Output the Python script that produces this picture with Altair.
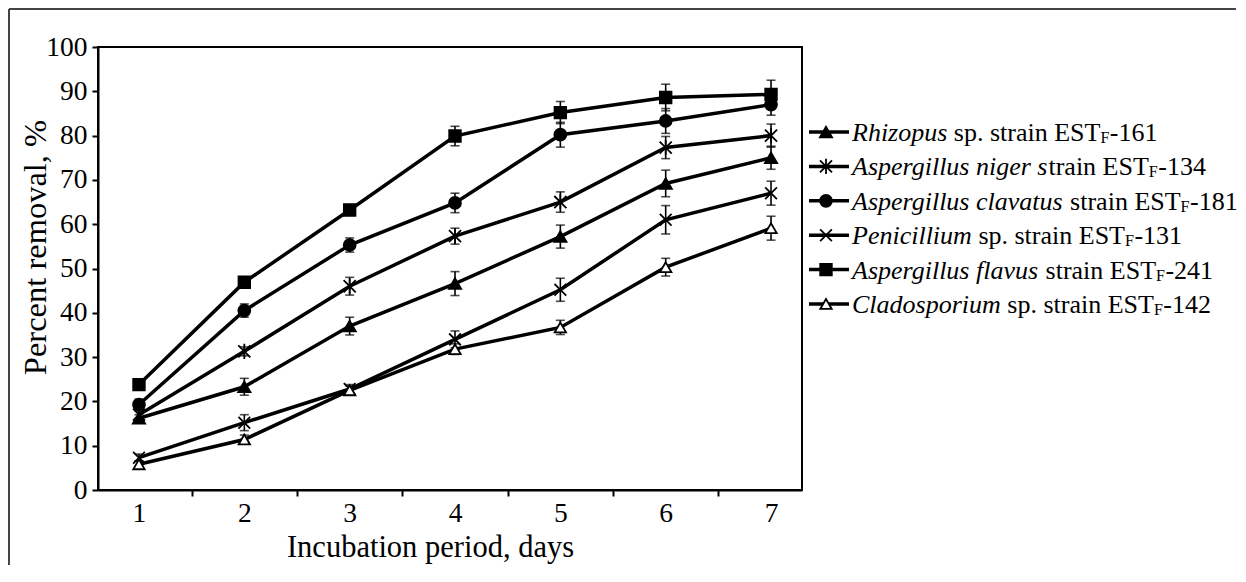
import altair as alt
import pandas as pd

# ---------------- data ----------------
days = [1, 2, 3, 4, 5, 6, 7]
series = ["Rhizopus", "Aspergillus niger", "Aspergillus clavatus",
          "Penicillium", "Aspergillus flavus", "Cladosporium"]

rhizopus_mean = [16.2, 23.3, 37.0, 46.6, 57.2, 69.2, 75.0]
rhizopus_err = [0.8, 1.9, 2.0, 2.7, 2.6, 3.0, 2.6]
niger_mean = [17.0, 31.3, 46.0, 57.3, 65.0, 77.3, 80.0]
niger_err = [0.8, 1.0, 2.0, 1.8, 2.3, 2.5, 2.6]
clavatus_mean = [19.3, 40.5, 55.3, 64.8, 80.2, 83.3, 87.0]
clavatus_err = [1.2, 1.5, 1.6, 2.2, 2.8, 2.8, 2.4]
penicillium_mean = [7.3, 15.2, 22.8, 34.0, 45.2, 61.0, 67.0]
penicillium_err = [0.8, 1.8, 1.0, 1.9, 2.6, 3.2, 2.7]
flavus_mean = [23.8, 46.9, 63.2, 79.9, 85.2, 88.6, 89.3]
flavus_err = [0.8, 0.8, 1.2, 2.2, 2.5, 3.0, 3.2]
clado_mean = [5.8, 11.4, 22.5, 31.8, 36.7, 50.3, 59.1]
clado_err = [0.8, 1.0, 1.0, 1.2, 1.6, 2.0, 2.7]

# legend text pieces
italic_part = ["Rhizopus", "Aspergillus niger s", "Aspergillus clavatus",
               "Penicillium", "Aspergillus flavus", "Cladosporium"]
regular_part = ["sp. strain EST", "train EST", "strain EST",
                "sp. strain EST", "strain EST", "sp. strain EST"]
space_before_regular = [True, False, True, True, True, True]
subscript_part = ["F", "F", "F", "F", "F", "F"]
strain_number = ["-161", "-134", "-181", "-131", "-241", "-142"]

y_tick_values = list(range(0, 101, 10))
x_tick_values = [1, 1.5, 2, 2.5, 3, 3.5, 4, 4.5, 5, 5.5, 6, 6.5, 7]

means = [rhizopus_mean, niger_mean, clavatus_mean, penicillium_mean, flavus_mean, clado_mean]
errs = [rhizopus_err, niger_err, clavatus_err, penicillium_err, flavus_err, clado_err]

rows = []
for s, m, e in zip(series, means, errs):
    for d, v, er in zip(days, m, e):
        rows.append({"series": s, "day": d, "value": v, "lo": v - er, "hi": v + er})
df = pd.DataFrame(rows)

# ---------------- styles ----------------
FONT = "Liberation Serif"
LEG_FS = 26
SUB_FS = 16
ASTER = "M-1,-1L1,1M-1,1L1,-1M0,-1.25L0,1.25"
XSHAPE = "M-1,-1L1,1M-1,1L1,-1"
shape_range = ["triangle-up", ASTER, "circle", XSHAPE, "square", "triangle-up"]
fill_range = ["black", "black", "black", "black", "black", "white"]
size_range = [150, 130, 125, 125, 150, 150]

shape_enc = alt.Shape("series:N", scale=alt.Scale(domain=series, range=shape_range), legend=None)
fill_enc = alt.Fill("series:N", scale=alt.Scale(domain=series, range=fill_range), legend=None)
size_enc = alt.Size("series:N", scale=alt.Scale(domain=series, range=size_range), legend=None)

xscale = alt.Scale(domain=[0.611, 7.294], nice=False, zero=False)
yscale = alt.Scale(domain=[0, 100], nice=False, zero=False)

x_axis = alt.Axis(
    values=x_tick_values,
    labelExpr="datum.value % 1 === 0 ? format(datum.value, 'd') : ''",
    tickColor={"condition": {"test": "datum.value % 1 === 0", "value": "transparent"}, "value": "black"},
    tickSize=6, tickWidth=2, domainColor="black", domainWidth=2,
    labelFontSize=27.5, labelPadding=3, labelOverlap=False, labelFlush=False,
    title="Incubation period, days", titleFontSize=30.5, titleX=332, titleY=66,
    titleBaseline="alphabetic", grid=False,
)
y_axis = alt.Axis(
    values=y_tick_values, tickSize=6, tickWidth=2, tickColor="black",
    domainColor="black", domainWidth=2, labelFontSize=27.5, labelPadding=5,
    title="Percent removal, %", titleFontSize=32.5, titleX=-63, titleY=200,
    titleBaseline="middle", grid=False,
)

X = alt.X("day:Q", scale=xscale, axis=x_axis)
Y = alt.Y("value:Q", scale=yscale, axis=y_axis)

base = alt.Chart(df)
lines = base.mark_line(color="black", strokeWidth=3.5).encode(x=X, y=Y, detail="series:N")
bars = base.mark_rule(color="black", strokeWidth=1.6).encode(
    x=X, y=alt.Y("lo:Q", scale=yscale, axis=y_axis), y2="hi:Q")
caps_lo = base.mark_tick(color="black", orient="horizontal", size=9, thickness=1.6).encode(
    x=X, y=alt.Y("lo:Q", scale=yscale, axis=y_axis))
caps_hi = base.mark_tick(color="black", orient="horizontal", size=9, thickness=1.6).encode(
    x=X, y=alt.Y("hi:Q", scale=yscale, axis=y_axis))
points = base.mark_point(filled=True, opacity=1, stroke="black", strokeWidth=1.8).encode(
    x=X, y=Y, shape=shape_enc, fill=fill_enc, size=size_enc)

frame_top = base.mark_rule(color="#444", strokeWidth=1.5).encode(
    x=alt.value(-89), x2=alt.value(1138), y=alt.value(-38))
frame_left = base.mark_rule(color="#444", strokeWidth=1.5).encode(
    x=alt.value(-89), y=alt.value(-38), y2=alt.value(518))

main = alt.layer(lines, bars, caps_lo, caps_hi, points, frame_top, frame_left)

# ---------------- legend (built from the arrays above) ----------------
REG = {" ": 250, "s": 389, "p": 500, ".": 250, "t": 278, "r": 333, "a": 444, "i": 278,
       "n": 500, "E": 611, "S": 556, "T": 611, "F": 556, "-": 333}
ITA = {" ": 250, "A": 611, "C": 667, "P": 611, "R": 611, "a": 500, "c": 444, "d": 500,
       "e": 444, "f": 278, "g": 500, "h": 500, "i": 278, "l": 278, "m": 722, "n": 500,
       "o": 500, "p": 500, "r": 389, "s": 389, "t": 278, "u": 500, "v": 444, "z": 389}


def text_width(txt, table, fs):
    return sum(table.get(c, 500) for c in txt) * fs / 1000.0


TEXT_X0 = 754
leg_rows = []
for s, it, rg, sp, sb, num in zip(series, italic_part, regular_part,
                                  space_before_regular, subscript_part, strain_number):
    x_it = TEXT_X0
    x_rg = x_it + text_width(it, ITA, LEG_FS) + (text_width(" ", REG, LEG_FS) if sp else 0)
    x_sb = x_rg + text_width(rg, REG, LEG_FS)
    x_num = x_sb + text_width(sb, REG, SUB_FS) + 0.5
    leg_rows.append({"series": s, "it": it, "rg": rg, "sb": sb, "num": num,
                     "x_it": x_it, "x_rg": x_rg, "x_sb": x_sb, "x_num": x_num})
leg_df = pd.DataFrame(leg_rows)

leg_y = alt.Y("series:N", scale=alt.Scale(type="point", domain=series, range=[85, 257], padding=0), axis=None)
leg_xscale = alt.Scale(domain=[0, 1000], range=[0, 1000], nice=False, zero=False)

lbase = alt.Chart(leg_df)
leg_line = lbase.mark_rule(color="black", strokeWidth=3.5).encode(
    x=alt.value(711), x2=alt.value(751), y=leg_y)
leg_pts = lbase.mark_point(filled=True, opacity=1, stroke="black", strokeWidth=1.8).encode(
    x=alt.value(728), y=leg_y, shape=shape_enc, fill=fill_enc, size=size_enc)
leg_it = lbase.mark_text(align="left", baseline="alphabetic", fontStyle="italic",
                         fontSize=LEG_FS, dy=9, color="black").encode(
    x=alt.X("x_it:Q", scale=leg_xscale, axis=None), y=leg_y, text="it:N")
leg_rg = lbase.mark_text(align="left", baseline="alphabetic", fontSize=LEG_FS, dy=9,
                         color="black").encode(
    x=alt.X("x_rg:Q", scale=leg_xscale, axis=None), y=leg_y, text="rg:N")
leg_sb = lbase.mark_text(align="left", baseline="alphabetic", fontSize=SUB_FS, dy=11,
                         color="black").encode(
    x=alt.X("x_sb:Q", scale=leg_xscale, axis=None), y=leg_y, text="sb:N")
leg_num = lbase.mark_text(align="left", baseline="alphabetic", fontSize=LEG_FS, dy=9,
                          color="black").encode(
    x=alt.X("x_num:Q", scale=leg_xscale, axis=None), y=leg_y, text="num:N")

legend = alt.layer(leg_line, leg_pts, leg_it, leg_rg, leg_sb, leg_num)

chart = (
    alt.layer(main, legend)
    .resolve_scale(x="independent", y="independent")
    .properties(width=704, height=443, padding=0)
    .configure(font=FONT)
    .configure_view(stroke="black", strokeWidth=2)
    .configure_axis(labelFont=FONT, titleFont=FONT, labelColor="black", titleColor="black",
                    titleFontWeight="normal")
    .configure_text(font=FONT)
)

chart.save("out.html", embed_options={"renderer": "svg", "actions": False})
